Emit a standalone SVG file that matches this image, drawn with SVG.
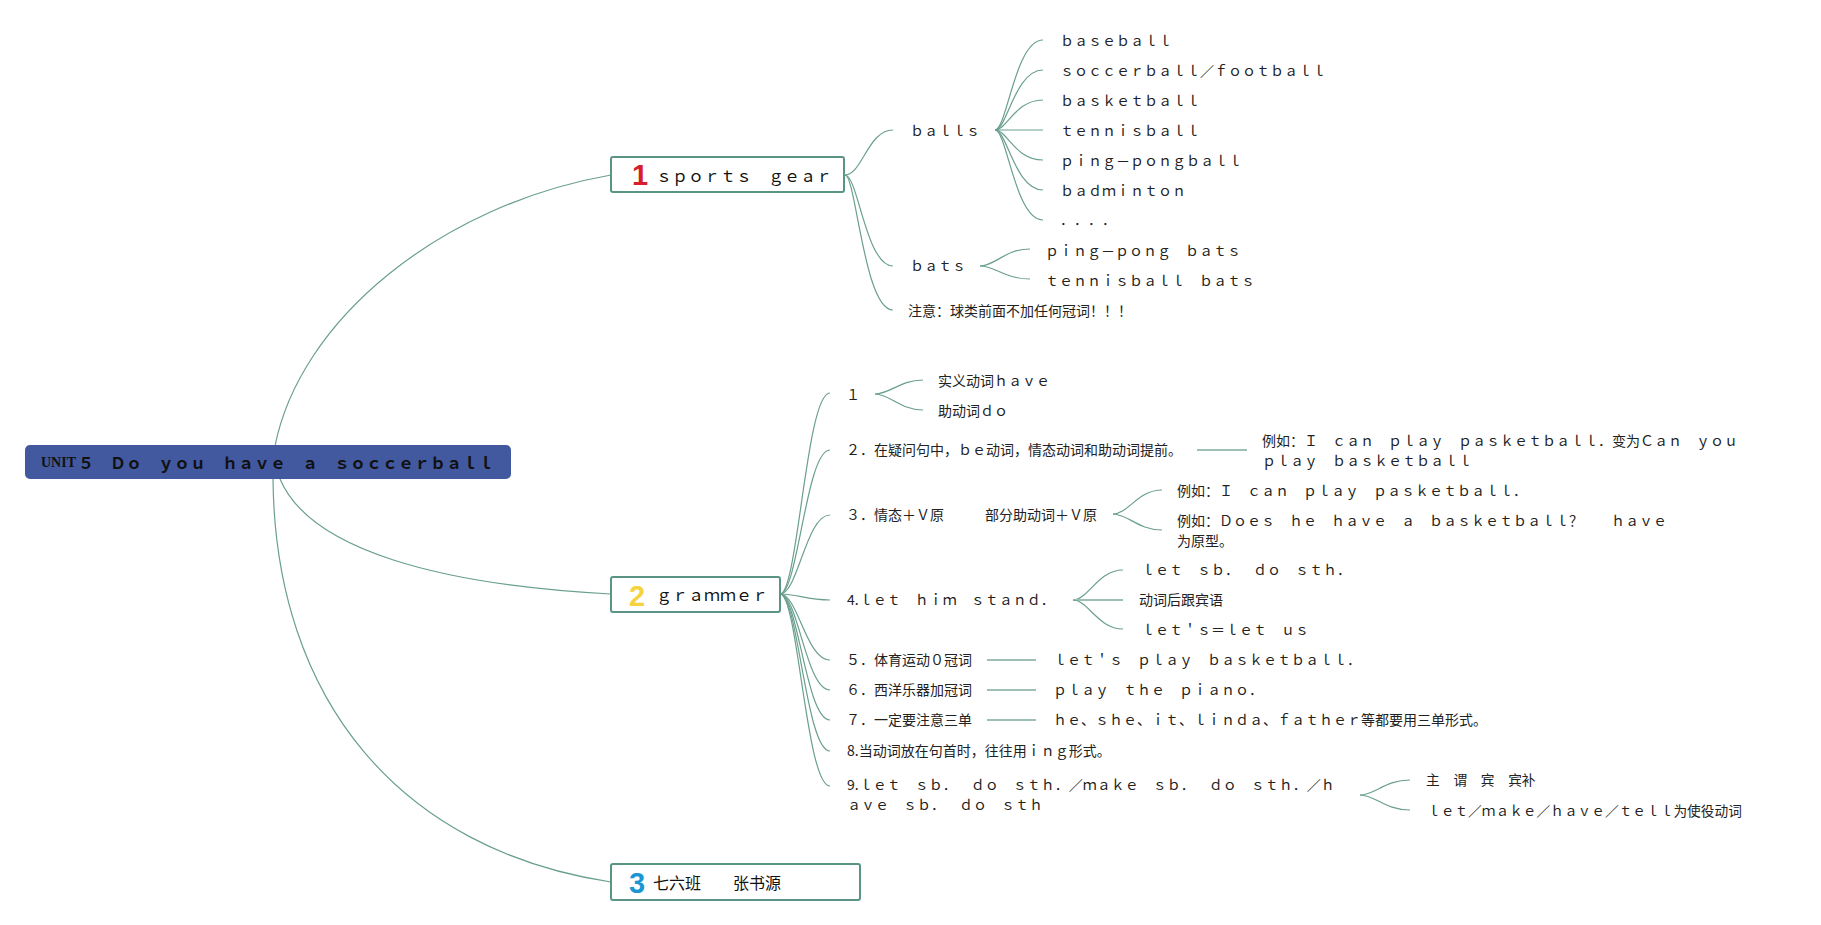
<svg xmlns="http://www.w3.org/2000/svg" width="1821" height="925" viewBox="0 0 1821 925">
<style>
.t{font-family:"Noto Sans CJK SC","Noto Sans",sans-serif;font-size:14px;fill:#222;dominant-baseline:central;text-spacing-trim:space-all;font-feature-settings:"chws" 0,"halt" 0}
.t13{font-size:13.7px}
.main{font-family:"Noto Sans CJK SC","Noto Sans",sans-serif;font-size:16px;fill:#111;dominant-baseline:central;text-spacing-trim:space-all;font-feature-settings:"chws" 0,"halt" 0}
.box{fill:#fff;stroke:#5a9485;stroke-width:2}
.num{font-family:"Liberation Sans",Arial,sans-serif;font-weight:bold;font-size:29px}
.c{fill:none;stroke:#6a9f90;stroke-width:1.2}
.s{fill:none;stroke:#9dbfb5;stroke-width:1.8}
</style>
<rect width="1821" height="925" fill="#fff"/>
<g id="connectors">
<path class="c" d="M275,446 C300,320 440,205 611,175"/>
<path class="c" d="M280,479 C310,550 440,585 611,594"/>
<path class="c" d="M273,479 C275,700 400,850 611,882"/>
<path class="c" d="M845,175 C862,175 868,130 893,130"/>
<path class="c" d="M845,175 C858,175 866,266 893,266"/>
<path class="c" d="M845,175 C856,175 864,310 893,310"/>
<path class="c" d="M995,130 C1007,130 1015,40 1043,40"/>
<path class="c" d="M995,130 C1007,130 1015,70 1043,70"/>
<path class="c" d="M995,130 C1007,130 1015,100 1043,100"/>
<path class="c" d="M995,130 L1043,130"/>
<path class="c" d="M995,130 C1007,130 1015,160 1043,160"/>
<path class="c" d="M995,130 C1007,130 1015,190 1043,190"/>
<path class="c" d="M995,130 C1007,130 1015,220 1043,220"/>
<path class="c" d="M980,266 C995,266 1005,249 1030,249"/>
<path class="c" d="M980,266 C995,266 1005,279 1030,279"/>
<path class="c" d="M780,594 C798,594 806,393 830,393"/>
<path class="c" d="M780,594 C798,594 806,450 830,450"/>
<path class="c" d="M780,594 C798,594 806,515 830,515"/>
<path class="c" d="M780,594 C798,594 806,600 830,600"/>
<path class="c" d="M780,594 C798,594 806,660 830,660"/>
<path class="c" d="M780,594 C798,594 806,690 830,690"/>
<path class="c" d="M780,594 C798,594 806,720 830,720"/>
<path class="c" d="M780,594 C798,594 806,751 830,751"/>
<path class="c" d="M780,594 C798,594 806,786 830,786"/>
<path class="c" d="M875,394 C890,394 900,380 923,380"/>
<path class="c" d="M875,394 C890,394 900,410 923,410"/>
<path class="s" d="M1197,450 L1247,450"/>
<path class="c" d="M1113,514 C1128,514 1138,490 1162,490"/>
<path class="c" d="M1113,514 C1128,514 1138,530 1162,530"/>
<path class="c" d="M1073,600 C1088,600 1098,570 1123,570"/>
<path class="s" d="M1073,600 L1123,600"/>
<path class="c" d="M1073,600 C1088,600 1098,629 1123,629"/>
<path class="s" d="M987,660 L1036,660"/>
<path class="s" d="M987,690 L1036,690"/>
<path class="s" d="M987,720 L1036,720"/>
<path class="c" d="M1360,795 C1375,795 1385,780 1410,780"/>
<path class="c" d="M1360,795 C1375,795 1385,810 1410,810"/>
</g>
<g id="root">
<rect x="25" y="445" width="486" height="34" rx="5" fill="#43599f"/>
<text x="41" y="462" font-family="Liberation Serif,serif" font-weight="bold" font-size="14" fill="#111" dominant-baseline="central">UNIT</text>
<text class="main" x="78" y="462" font-weight="bold">５　Ｄｏ　ｙｏｕ　ｈａｖｅ　ａ　ｓｏｃｃｅｒｂａｌｌ</text>
</g>
<g id="sports-gear">
<rect class="box" x="611" y="157" width="233" height="35" rx="2"/>
<text class="num" x="632" y="185" fill="#d81e2c">1</text>
<text class="main" x="656" y="175">ｓｐｏｒｔｓ　ｇｅａｒ</text>
</g>
<g id="balls"><text class="t" x="910" y="130">ｂａｌｌｓ</text></g>
<g id="baseball"><text class="t" x="1060" y="40">ｂａｓｅｂａｌｌ</text></g>
<g id="soccerball"><text class="t" x="1060" y="70">ｓｏｃｃｅｒｂａｌｌ／ｆｏｏｔｂａｌｌ</text></g>
<g id="basketball"><text class="t" x="1060" y="100">ｂａｓｋｅｔｂａｌｌ</text></g>
<g id="tennisball"><text class="t" x="1060" y="130">ｔｅｎｎｉｓｂａｌｌ</text></g>
<g id="pingpongball"><text class="t" x="1060" y="160">ｐｉｎｇ－ｐｏｎｇｂａｌｌ</text></g>
<g id="badminton"><text class="t" x="1060" y="190">ｂａｄｍｉｎｔｏｎ</text></g>
<g id="dots"><text class="t" x="1060" y="219">．．．．</text></g>
<g id="bats"><text class="t" x="910" y="265">ｂａｔｓ</text></g>
<g id="pingpong-bats"><text class="t" x="1045" y="250">ｐｉｎｇ－ｐｏｎｇ　ｂａｔｓ</text></g>
<g id="tennisball-bats"><text class="t" x="1045" y="280">ｔｅｎｎｉｓｂａｌｌ　ｂａｔｓ</text></g>
<g id="note"><text class="t" x="908" y="310">注意：球类前面不加任何冠词！！！</text></g>
<g id="grammer">
<rect class="box" x="611" y="577" width="169" height="35" rx="2"/>
<text class="num" x="629" y="606" fill="#f5d33f">2</text>
<text class="main" x="656" y="594">ｇｒａｍｍｅｒ</text>
</g>
<g id="g1"><text class="t" x="846" y="394">１</text></g>
<g id="g1a"><text class="t" x="938" y="380">实义动词ｈａｖｅ</text></g>
<g id="g1b"><text class="t" x="938" y="410">助动词ｄｏ</text></g>
<g id="g2"><text class="t" x="846" y="449">２．在疑问句中，ｂｅ动词，情态动词和助动词提前。</text></g>
<g id="g2a"><text class="t" x="1262" y="440">例如：Ｉ　ｃａｎ　ｐｌａｙ　ｐａｓｋｅｔｂａｌｌ．变为Ｃａｎ　ｙｏｕ<tspan x="1262" y="460">ｐｌａｙ　ｂａｓｋｅｔｂａｌｌ</tspan></text></g>
<g id="g3"><text class="t" x="846" y="514">３．情态＋Ｖ原　　　<tspan x="985">部分助动词＋Ｖ原</tspan></text></g>
<g id="g3a"><text class="t" x="1177" y="490">例如：Ｉ　ｃａｎ　ｐｌａｙ　ｐａｓｋｅｔｂａｌｌ．</text></g>
<g id="g3b"><text class="t" x="1177" y="520">例如：Ｄｏｅｓ　ｈｅ　ｈａｖｅ　ａ　ｂａｓｋｅｔｂａｌｌ？　　ｈａｖｅ<tspan x="1177" y="540">为原型。</tspan></text></g>
<g id="g4"><text class="t" x="847" y="599">4.ｌｅｔ　ｈｉｍ　ｓｔａｎｄ．</text></g>
<g id="g4a"><text class="t" x="1141" y="569">ｌｅｔ　ｓｂ．　ｄｏ　ｓｔｈ．</text></g>
<g id="g4b"><text class="t" x="1139" y="599">动词后跟宾语</text></g>
<g id="g4c"><text class="t" x="1141" y="629">ｌｅｔ＇ｓ＝ｌｅｔ　ｕｓ</text></g>
<g id="g5"><text class="t" x="846" y="659">５．体育运动０冠词</text></g>
<g id="g5a"><text class="t" x="1053" y="659">ｌｅｔ＇ｓ　ｐｌａｙ　ｂａｓｋｅｔｂａｌｌ．</text></g>
<g id="g6"><text class="t" x="846" y="689">６．西洋乐器加冠词</text></g>
<g id="g6a"><text class="t" x="1053" y="689">ｐｌａｙ　ｔｈｅ　ｐｉａｎｏ．</text></g>
<g id="g7"><text class="t" x="846" y="719">７．一定要注意三单</text></g>
<g id="g7a"><text class="t" x="1053" y="719">ｈｅ、ｓｈｅ、ｉｔ、ｌｉｎｄａ、ｆａｔｈｅｒ等都要用三单形式。</text></g>
<g id="g8"><text class="t" x="847" y="750">8.当动词放在句首时，往往用ｉｎｇ形式。</text></g>
<g id="g9"><text class="t" x="847" y="784">9.ｌｅｔ　ｓｂ．　ｄｏ　ｓｔｈ．／ｍａｋｅ　ｓｂ．　ｄｏ　ｓｔｈ．／ｈ<tspan x="847" y="804">ａｖｅ　ｓｂ．　ｄｏ　ｓｔｈ</tspan></text></g>
<g id="g9a"><text class="t t13" x="1426" y="779">主　谓　宾　宾补</text></g>
<g id="g9b"><text class="t t13" x="1427" y="810">ｌｅｔ／ｍａｋｅ／ｈａｖｅ／ｔｅｌｌ为使役动词</text></g>
<g id="class">
<rect class="box" x="611" y="864" width="249" height="36" rx="2"/>
<text class="num" x="629" y="893" fill="#1a96d4">3</text>
<text class="main" x="653" y="882">七六班　　张书源</text>
</g>
</svg>
